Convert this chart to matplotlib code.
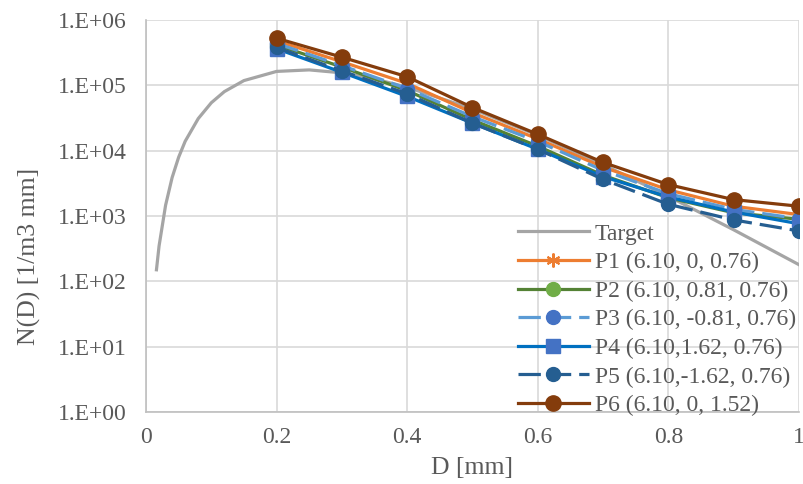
import numpy as np
import matplotlib
matplotlib.use('Agg')
import matplotlib.pyplot as plt
from matplotlib.ticker import FixedLocator, FuncFormatter

plt.rcParams['font.family'] = ['Liberation Serif', 'DejaVu Serif']

# target distribution
d_target = [0.016, 0.02, 0.03, 0.04, 0.05, 0.06, 0.08, 0.1, 0.12, 0.15, 0.2,
            0.25, 0.3, 0.35, 0.4, 0.5, 0.6, 0.7, 0.8, 0.9, 1.0]
n_target = [150, 347, 1460, 3870, 7930, 13900, 30900, 54000, 80000, 118000, 163000,
            172000, 155000, 125000, 93500, 43500, 17200, 6120, 2000, 615, 180]

# retrieved distributions
d = [0.2, 0.3, 0.4, 0.5, 0.6, 0.7, 0.8, 0.9, 1.0]
p1 = [480000, 229000, 107000, 38000, 15100, 5600, 2510, 1410, 1050]
p2 = [417000, 190000, 83000, 29500, 11700, 4200, 1900, 1120, 890]
p3 = [437000, 200000, 89000, 33100, 13800, 5000, 2190, 1260, 910]
p4 = [363000, 158000, 67600, 26300, 10500, 4000, 1950, 1150, 760]
p5 = [380000, 166000, 74000, 26300, 10500, 3630, 1510, 870, 590]
p6 = [525000, 269000, 135000, 45700, 17800, 6600, 3020, 1780, 1410]

labels = ['Target', 'P1 (6.10, 0, 0.76)', 'P2 (6.10, 0.81, 0.76)',
          'P3 (6.10, -0.81, 0.76)', 'P4 (6.10,1.62, 0.76)',
          'P5 (6.10,-1.62, 0.76)', 'P6 (6.10, 0, 1.52)']

fig = plt.figure(figsize=(8.04, 4.84), dpi=100)
ax = fig.add_axes([0.1816, 0.1488, 0.812, 0.81])

lw = 2.3
dash = (0, (7, 2.5))
ax.plot(d_target, n_target, color='#A5A5A5', lw=lw, label=labels[0])
ax.plot(d, p1, color='#ED7D31', lw=lw, marker=(6, 2, 0), ms=10, mew=1.5, label=labels[1])
ax.plot(d, p2, color='#548235', lw=lw, marker='o', ms=10, mfc='#70AD47', mec='#70AD47', label=labels[2])
ax.plot(d, p3, color='#5B9BD5', lw=lw, ls=dash, marker='o', ms=10, mfc='#4472C4', mec='#4472C4', label=labels[3])
ax.plot(d, p4, color='#0070C0', lw=lw, marker='s', ms=10, mfc='#4472C4', mec='#4472C4', label=labels[4])
ax.plot(d, p5, color='#255E91', lw=lw, ls=dash, marker='o', ms=10, mfc='#255E91', mec='#255E91', label=labels[5])
ax.plot(d, p6, color='#843C0C', lw=lw, marker='o', ms=11, mfc='#843C0C', mec='#843C0C', label=labels[6])

ax.set_yscale('log')
ax.set_ylim(1, 1e6)
ax.set_xlim(0, 1)
ax.yaxis.set_major_locator(FixedLocator([10.0**k for k in range(7)]))
ax.yaxis.set_minor_locator(FixedLocator([]))
ax.yaxis.set_major_formatter(FuncFormatter(lambda v, p: '1.E+%02d' % round(np.log10(v))))
ax.set_xticks([0, 0.2, 0.4, 0.6, 0.8, 1.0])
ax.set_xticklabels(['0', '0.2', '0.4', '0.6', '0.8', '1'])
ax.tick_params(length=0, labelsize=17, colors='#595959')
ax.tick_params(axis='y', pad=14)
ax.tick_params(axis='x', pad=11)
ax.grid(True, color='#D9D9D9', lw=1.2)
ax.set_axisbelow(True)
for s in ['top', 'right']:
    ax.spines[s].set_visible(False)
for s in ['left', 'bottom']:
    ax.spines[s].set_color('#BFBFBF')
    ax.spines[s].set_linewidth(1.2)

ax.set_xlabel('D [mm]', fontsize=18.5, color='#595959', labelpad=6)
ax.set_ylabel('N(D) [1/m3 mm]', fontsize=18.5, color='#595959')
ax.yaxis.set_label_coords(-0.161, 0.398)

leg = ax.legend(loc='lower right', bbox_to_anchor=(1.01, -0.035), frameon=False,
                fontsize=17, handlelength=3.0, labelspacing=0.3, handletextpad=0.25,
                borderaxespad=0)
for t in leg.get_texts():
    t.set_color('#595959')

fig.savefig('out.png', dpi=100)
